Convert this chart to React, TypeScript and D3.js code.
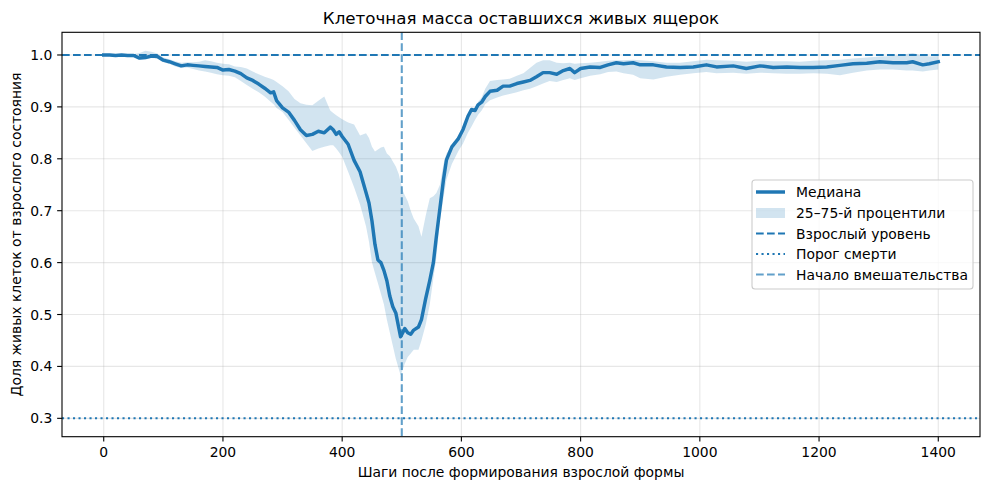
import React from "react";
import * as d3 from "d3";

const steps = [0,10,20,30,40,50,60,70,80,90,100,110,120,130,140,150,160,170,180,190,200,210,220,230,240,250,260,270,280,285,290,300,310,320,330,340,350,360,370,380,385,390,395,400,410,420,430,440,445,450,455,460,465,470,475,480,485,490,495,498,502,505,510,515,520,528,533,540,547,553,558,564,570,575,584,595,603,611,617,623,628,634,640,648,660,670,681,693,704,715,726,737,748,760,771,782,790,800,816,833,846,860,872,888,900,922,944,967,989,1011,1028,1056,1078,1101,1123,1146,1168,1190,1213,1235,1257,1280,1302,1324,1347,1357,1374,1385,1400];

const median = [1.000,1.000,0.999,1.000,0.999,0.999,0.994,0.995,0.998,0.997,0.990,0.987,0.983,0.979,0.981,0.980,0.979,0.978,0.977,0.976,0.971,0.972,0.969,0.964,0.956,0.951,0.944,0.936,0.927,0.929,0.912,0.898,0.890,0.874,0.856,0.845,0.847,0.853,0.850,0.861,0.856,0.847,0.852,0.843,0.828,0.797,0.775,0.735,0.715,0.680,0.635,0.605,0.600,0.585,0.565,0.535,0.515,0.503,0.474,0.457,0.466,0.473,0.465,0.462,0.470,0.476,0.490,0.530,0.566,0.600,0.650,0.705,0.760,0.798,0.823,0.839,0.857,0.882,0.895,0.893,0.904,0.909,0.920,0.930,0.932,0.940,0.940,0.945,0.948,0.951,0.958,0.966,0.966,0.963,0.970,0.974,0.966,0.974,0.977,0.976,0.981,0.985,0.983,0.985,0.981,0.981,0.977,0.976,0.977,0.981,0.977,0.979,0.974,0.979,0.976,0.977,0.976,0.976,0.977,0.980,0.983,0.984,0.987,0.985,0.985,0.987,0.981,0.983,0.987];

const upper = [1.001,1.001,1.001,1.001,1.001,1.002,1.004,1.008,1.006,1.003,0.995,0.992,0.988,0.985,0.986,0.986,0.987,0.990,0.988,0.985,0.983,0.982,0.978,0.977,0.974,0.968,0.963,0.958,0.954,0.952,0.948,0.940,0.930,0.915,0.907,0.904,0.903,0.912,0.920,0.893,0.888,0.884,0.880,0.876,0.870,0.866,0.845,0.849,0.840,0.823,0.814,0.818,0.822,0.823,0.810,0.805,0.795,0.785,0.770,0.755,0.738,0.730,0.718,0.700,0.685,0.670,0.650,0.690,0.724,0.728,0.734,0.750,0.790,0.810,0.825,0.845,0.858,0.878,0.890,0.900,0.910,0.918,0.935,0.950,0.952,0.953,0.954,0.960,0.965,0.975,0.985,0.990,0.990,0.985,0.984,0.985,0.983,0.984,0.985,0.987,0.989,0.990,0.990,0.991,0.990,0.988,0.985,0.985,0.988,0.991,0.990,0.989,0.987,0.989,0.988,0.988,0.987,0.989,0.990,0.991,0.993,0.995,0.997,0.998,1.002,1.004,0.999,0.997,0.998];

const lower = [0.999,0.999,0.998,0.999,0.998,0.997,0.991,0.992,0.994,0.993,0.986,0.983,0.978,0.975,0.976,0.973,0.970,0.968,0.966,0.963,0.961,0.960,0.957,0.950,0.942,0.935,0.928,0.920,0.910,0.905,0.898,0.890,0.875,0.860,0.845,0.830,0.815,0.820,0.823,0.826,0.826,0.820,0.812,0.804,0.775,0.745,0.712,0.670,0.640,0.600,0.580,0.560,0.540,0.520,0.490,0.465,0.440,0.415,0.395,0.383,0.395,0.405,0.418,0.425,0.432,0.432,0.450,0.480,0.520,0.570,0.610,0.680,0.725,0.760,0.790,0.815,0.830,0.850,0.862,0.875,0.885,0.893,0.905,0.913,0.918,0.922,0.925,0.928,0.932,0.935,0.940,0.945,0.950,0.948,0.952,0.955,0.952,0.955,0.960,0.963,0.967,0.968,0.965,0.962,0.955,0.953,0.958,0.962,0.965,0.967,0.965,0.966,0.964,0.966,0.965,0.964,0.964,0.965,0.964,0.961,0.966,0.970,0.972,0.972,0.970,0.970,0.968,0.970,0.972];

const xTicks = [0, 200, 400, 600, 800, 1000, 1200, 1400];
const yTicks = [0.3, 0.4, 0.5, 0.6, 0.7, 0.8, 0.9, 1.0];
const adultLevel = 1.0;
const deathThreshold = 0.3;
const interventionStep = 500;

const title = "Клеточная масса оставшихся живых ящерок";
const xLabel = "Шаги после формирования взрослой формы";
const yLabel = "Доля живых клеток от взрослого состояния";
const legendLabels = ["Медиана", "25–75-й процентили", "Взрослый уровень", "Порог смерти", "Начало вмешательства"];

const W = 989, H = 490;
const L = 62, R = 980, T = 32.3, B = 436.7;
const C = "#1f77b4";
const FONT = "DejaVu Sans, sans-serif";
const FS = 13.9;
const DASH = "7.7,3.3";
const DOT = "2.1,3.4";

export default function App() {
  const x = d3.scaleLinear().domain([-70, 1470]).range([L, R]);
  const y = d3.scaleLinear().domain([0.2646, 1.0437]).range([B, T]);
  const idx = d3.range(steps.length);
  const area = d3.area<number>().x(i => x(steps[i])).y0(i => y(lower[i])).y1(i => y(upper[i]));
  const line = d3.line<number>().x(i => x(steps[i])).y(i => y(median[i]));

  const lx = 752, ly = 180, lw = 221, lh = 109;
  const rowY = [192, 213, 233.5, 254, 274.5];

  return (
    <svg width={W} height={H} style={{ position: "absolute", left: 0, top: 0, background: "#fff" }} fontFamily={FONT}>
      <rect x={0} y={0} width={W} height={H} fill="#fff" />
      <defs>
        <clipPath id="plot"><rect x={L} y={T} width={R - L} height={B - T} /></clipPath>
      </defs>
      {xTicks.map(t => (
        <line key={"gx" + t} x1={x(t)} x2={x(t)} y1={T} y2={B} stroke="#b0b0b0" strokeOpacity={0.3} strokeWidth={1.1} />
      ))}
      {yTicks.map(t => (
        <line key={"gy" + t} x1={L} x2={R} y1={y(t)} y2={y(t)} stroke="#b0b0b0" strokeOpacity={0.3} strokeWidth={1.1} />
      ))}
      <g clipPath="url(#plot)">
        <path d={area(idx) || ""} fill={C} fillOpacity={0.2} stroke="none" />
        <path d={line(idx) || ""} fill="none" stroke={C} strokeWidth={3.47} strokeLinejoin="round" strokeLinecap="square" />
        <line x1={L} x2={R} y1={y(adultLevel)} y2={y(adultLevel)} stroke={C} strokeWidth={2.08} strokeDasharray={DASH} />
        <line x1={L} x2={R} y1={y(deathThreshold)} y2={y(deathThreshold)} stroke={C} strokeWidth={2.08} strokeDasharray={DOT} />
        <line x1={x(interventionStep)} x2={x(interventionStep)} y1={T} y2={B} stroke={C} strokeOpacity={0.7} strokeWidth={2.08} strokeDasharray={DASH} />
      </g>
      <rect x={L} y={T} width={R - L} height={B - T} fill="none" stroke="#000" strokeWidth={1.1} />
      {xTicks.map(t => (
        <g key={"xt" + t}>
          <line x1={x(t)} x2={x(t)} y1={B} y2={B + 4.86} stroke="#000" strokeWidth={1.1} />
          <text x={x(t)} y={B + 9.7} dy="0.76em" textAnchor="middle" fontSize={FS} fill="#000">{t}</text>
        </g>
      ))}
      {yTicks.map(t => (
        <g key={"yt" + t}>
          <line x1={L - 4.86} x2={L} y1={y(t)} y2={y(t)} stroke="#000" strokeWidth={1.1} />
          <text x={L - 9.7} y={y(t)} dy="0.36em" textAnchor="end" fontSize={FS} fill="#000">{t.toFixed(1)}</text>
        </g>
      ))}
      <text x={(L + R) / 2} y={477} textAnchor="middle" fontSize={FS} fill="#000">{xLabel}</text>
      <text transform={`translate(21,${(T + B) / 2}) rotate(-90)`} textAnchor="middle" fontSize={FS} fill="#000">{yLabel}</text>
      <text x={(L + R) / 2} y={24} textAnchor="middle" fontSize={16.7} fill="#000">{title}</text>
      <rect x={lx} y={ly} width={lw} height={lh} rx={3} fill="#fff" fillOpacity={0.8} stroke="#cccccc" strokeWidth={1.1} />
      <line x1={756} x2={785} y1={rowY[0]} y2={rowY[0]} stroke={C} strokeWidth={3.47} />
      <rect x={756} y={rowY[1] - 5} width={29} height={10} fill={C} fillOpacity={0.2} />
      <line x1={756} x2={785} y1={rowY[2]} y2={rowY[2]} stroke={C} strokeWidth={2.08} strokeDasharray={DASH} />
      <line x1={756} x2={785} y1={rowY[3]} y2={rowY[3]} stroke={C} strokeWidth={2.08} strokeDasharray={DOT} />
      <line x1={756} x2={785} y1={rowY[4]} y2={rowY[4]} stroke={C} strokeOpacity={0.7} strokeWidth={2.08} strokeDasharray={DASH} />
      {legendLabels.map((s, i) => (
        <text key={s} x={796} y={rowY[i]} dy="0.36em" fontSize={FS} fill="#000">{s}</text>
      ))}
    </svg>
  );
}
